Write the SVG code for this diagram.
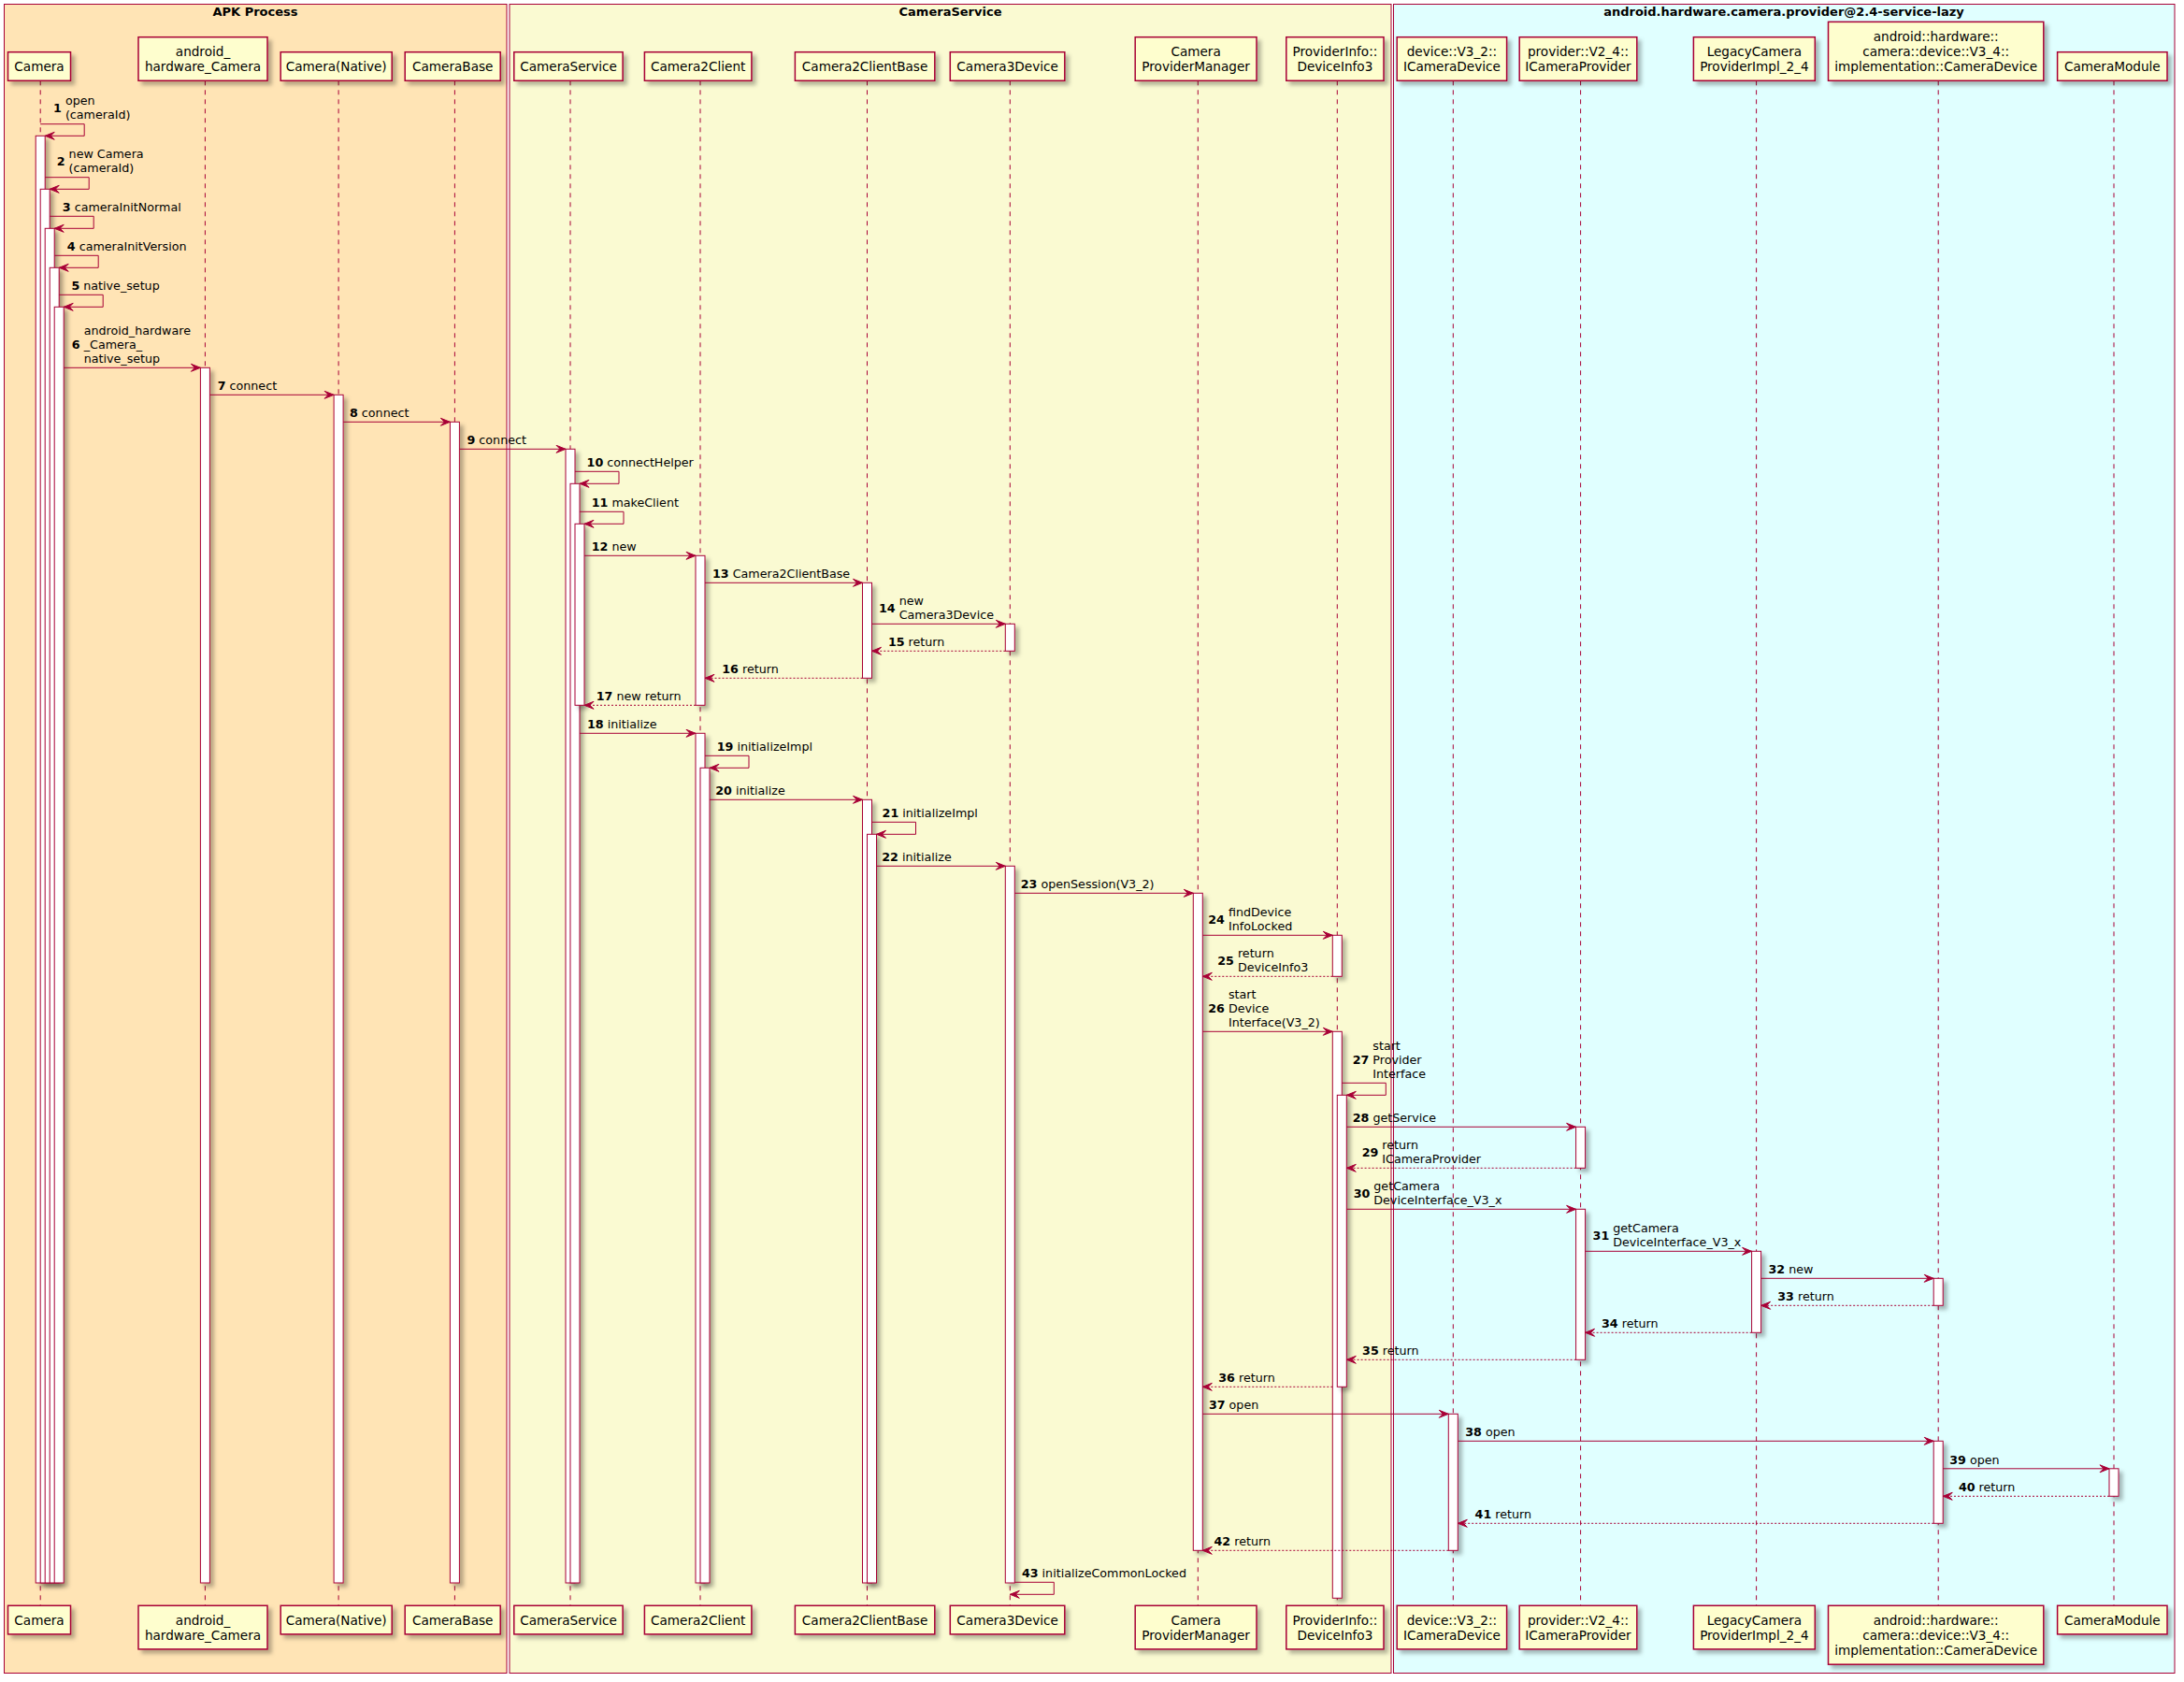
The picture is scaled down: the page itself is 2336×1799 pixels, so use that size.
<svg xmlns="http://www.w3.org/2000/svg" width="2336" height="1799" viewBox="0 0 2336 1799">
<defs>
<style>
.fr{stroke:#A80036;stroke-width:1}
.ft{font-family:"DejaVu Sans",sans-serif;font-size:13px;font-weight:bold;text-anchor:middle;fill:#000}
.pb{fill:#FEFECE;stroke:#A80036;stroke-width:1.5;filter:url(#sh)}
.pt{font-family:"DejaVu Sans",sans-serif;font-size:13.6px;text-anchor:middle;fill:#000}
.ll{stroke:#A80036;stroke-width:1;stroke-dasharray:5,5;fill:none}
.ac{fill:#FFFFFF;stroke:#A80036;stroke-width:1;filter:url(#sh)}
.ms{stroke:#A80036;stroke-width:1;fill:none;marker-end:url(#ah)}
.rt{stroke-dasharray:2,2}
.mt{font-family:"DejaVu Sans",sans-serif;font-size:12.7px;fill:#000}
.n{font-weight:bold}
</style>
<filter id="sh" x="-1" y="-0.5" width="3" height="2">
<feGaussianBlur in="SourceAlpha" stdDeviation="2"/>
<feOffset dx="4" dy="4" result="o"/>
<feFlood flood-color="#000" flood-opacity="0.28"/>
<feComposite in2="o" operator="in"/>
<feMerge><feMergeNode/><feMergeNode in="SourceGraphic"/></feMerge>
</filter>
<marker id="ah" markerUnits="userSpaceOnUse" markerWidth="12" markerHeight="10" refX="11" refY="5" orient="auto" overflow="visible">
<path d="M1,1 L11,5 L1,9 L5,5 Z" fill="#A80036" stroke="#A80036" stroke-width="1" stroke-dasharray="none"/>
</marker>
</defs>
<rect x="0" y="0" width="2336" height="1799" fill="#FFFFFF"/>
<g id="frames">
<rect class="fr" x="4.5" y="4.5" width="537.5" height="1785" fill="#FFE4B5"/>
<text class="ft" x="273" y="16.6">APK Process</text>
<rect class="fr" x="545" y="4.5" width="943" height="1785" fill="#FAFAD2"/>
<text class="ft" x="1016.5" y="16.6">CameraService</text>
<rect class="fr" x="1490.5" y="4.5" width="835.5" height="1785" fill="#E0FFFF"/>
<text class="ft" x="1908" y="16.6">android.hardware.camera.provider@2.4-service-lazy</text>
</g>
<g id="p-camera">
<line class="ll" x1="43.2" y1="86.3" x2="43.2" y2="1717.3"/>
<rect class="pb" x="8.5" y="55.7" width="67" height="30.6"/>
<text class="pt" x="42" y="76.2">Camera</text>
<rect class="pb" x="8.5" y="1717.3" width="67" height="30.6"/>
<text class="pt" x="42" y="1737.7">Camera</text>
<rect class="ac" x="38.2" y="145.3" width="10" height="1547.7"/>
<rect class="ac" x="43.2" y="202.3" width="10" height="1490.7"/>
<rect class="ac" x="48.2" y="244.3" width="10" height="1448.7"/>
<rect class="ac" x="53.2" y="286.3" width="10" height="1406.7"/>
<rect class="ac" x="58.2" y="328.3" width="10" height="1364.7"/>
</g>
<g id="p-android-hardware-camera">
<line class="ll" x1="219.4" y1="86.3" x2="219.4" y2="1717.3"/>
<rect class="pb" x="148" y="39.7" width="138" height="46.6"/>
<text class="pt" x="217" y="60.1">android_</text>
<text class="pt" x="217" y="76.4">hardware_Camera</text>
<rect class="pb" x="148" y="1717.3" width="138" height="46.6"/>
<text class="pt" x="217" y="1737.7">android_</text>
<text class="pt" x="217" y="1754">hardware_Camera</text>
<rect class="ac" x="214.4" y="393.3" width="10" height="1299.7"/>
</g>
<g id="p-camera-native">
<line class="ll" x1="362.1" y1="86.3" x2="362.1" y2="1717.3"/>
<rect class="pb" x="300.2" y="55.7" width="119" height="30.6"/>
<text class="pt" x="359.7" y="76.2">Camera(Native)</text>
<rect class="pb" x="300.2" y="1717.3" width="119" height="30.6"/>
<text class="pt" x="359.7" y="1737.7">Camera(Native)</text>
<rect class="ac" x="357.1" y="422.3" width="10" height="1270.7"/>
</g>
<g id="p-camerabase">
<line class="ll" x1="486.4" y1="86.3" x2="486.4" y2="1717.3"/>
<rect class="pb" x="433.2" y="55.7" width="102" height="30.6"/>
<text class="pt" x="484.2" y="76.2">CameraBase</text>
<rect class="pb" x="433.2" y="1717.3" width="102" height="30.6"/>
<text class="pt" x="484.2" y="1737.7">CameraBase</text>
<rect class="ac" x="481.4" y="451.3" width="10" height="1241.7"/>
</g>
<g id="p-cameraservice">
<line class="ll" x1="610" y1="86.3" x2="610" y2="1717.3"/>
<rect class="pb" x="549.8" y="55.7" width="116.3" height="30.6"/>
<text class="pt" x="608" y="76.2">CameraService</text>
<rect class="pb" x="549.8" y="1717.3" width="116.3" height="30.6"/>
<text class="pt" x="608" y="1737.7">CameraService</text>
<rect class="ac" x="605" y="480.3" width="10" height="1212.7"/>
<rect class="ac" x="610" y="517.3" width="10" height="1175.7"/>
<rect class="ac" x="615" y="560.3" width="10" height="194"/>
</g>
<g id="p-camera2client">
<line class="ll" x1="749" y1="86.3" x2="749" y2="1717.3"/>
<rect class="pb" x="689.4" y="55.7" width="114.5" height="30.6"/>
<text class="pt" x="746.7" y="76.2">Camera2Client</text>
<rect class="pb" x="689.4" y="1717.3" width="114.5" height="30.6"/>
<text class="pt" x="746.7" y="1737.7">Camera2Client</text>
<rect class="ac" x="744" y="594.3" width="10" height="160"/>
<rect class="ac" x="744" y="784.3" width="10" height="908.7"/>
<rect class="ac" x="749" y="821.3" width="10" height="871.7"/>
</g>
<g id="p-camera2clientbase">
<line class="ll" x1="927.5" y1="86.3" x2="927.5" y2="1717.3"/>
<rect class="pb" x="850.4" y="55.7" width="149.4" height="30.6"/>
<text class="pt" x="925.1" y="76.2">Camera2ClientBase</text>
<rect class="pb" x="850.4" y="1717.3" width="149.4" height="30.6"/>
<text class="pt" x="925.1" y="1737.7">Camera2ClientBase</text>
<rect class="ac" x="922.5" y="623.3" width="10" height="102"/>
<rect class="ac" x="922.5" y="855.3" width="10" height="837.7"/>
<rect class="ac" x="927.5" y="892.3" width="10" height="800.7"/>
</g>
<g id="p-camera3device">
<line class="ll" x1="1080.3" y1="86.3" x2="1080.3" y2="1717.3"/>
<rect class="pb" x="1016.3" y="55.7" width="122.5" height="30.6"/>
<text class="pt" x="1077.6" y="76.2">Camera3Device</text>
<rect class="pb" x="1016.3" y="1717.3" width="122.5" height="30.6"/>
<text class="pt" x="1077.6" y="1737.7">Camera3Device</text>
<rect class="ac" x="1075.3" y="667.3" width="10" height="29"/>
<rect class="ac" x="1075.3" y="926.3" width="10" height="766.7"/>
</g>
<g id="p-cameraprovidermanager">
<line class="ll" x1="1281.3" y1="86.3" x2="1281.3" y2="1717.3"/>
<rect class="pb" x="1214.2" y="39.7" width="129.8" height="46.6"/>
<text class="pt" x="1279.1" y="60.1">Camera</text>
<text class="pt" x="1279.1" y="76.4">ProviderManager</text>
<rect class="pb" x="1214.2" y="1717.3" width="129.8" height="46.6"/>
<text class="pt" x="1279.1" y="1737.7">Camera</text>
<text class="pt" x="1279.1" y="1754">ProviderManager</text>
<rect class="ac" x="1276.3" y="955.3" width="10" height="703"/>
</g>
<g id="p-deviceinfo3">
<line class="ll" x1="1430.3" y1="86.3" x2="1430.3" y2="1717.3"/>
<rect class="pb" x="1375.8" y="39.7" width="104.2" height="46.6"/>
<text class="pt" x="1427.9" y="60.1">ProviderInfo::</text>
<text class="pt" x="1427.9" y="76.4">DeviceInfo3</text>
<rect class="pb" x="1375.8" y="1717.3" width="104.2" height="46.6"/>
<text class="pt" x="1427.9" y="1737.7">ProviderInfo::</text>
<text class="pt" x="1427.9" y="1754">DeviceInfo3</text>
<rect class="ac" x="1425.3" y="1000.3" width="10" height="44"/>
<rect class="ac" x="1425.3" y="1103.3" width="10" height="606"/>
<rect class="ac" x="1430.3" y="1171.3" width="10" height="312"/>
</g>
<g id="p-icameradevice">
<line class="ll" x1="1554.3" y1="86.3" x2="1554.3" y2="1717.3"/>
<rect class="pb" x="1494.2" y="39.7" width="117.4" height="46.6"/>
<text class="pt" x="1552.9" y="60.1">device::V3_2::</text>
<text class="pt" x="1552.9" y="76.4">ICameraDevice</text>
<rect class="pb" x="1494.2" y="1717.3" width="117.4" height="46.6"/>
<text class="pt" x="1552.9" y="1737.7">device::V3_2::</text>
<text class="pt" x="1552.9" y="1754">ICameraDevice</text>
<rect class="ac" x="1549.3" y="1512.3" width="10" height="146"/>
</g>
<g id="p-icameraprovider">
<line class="ll" x1="1690.6" y1="86.3" x2="1690.6" y2="1717.3"/>
<rect class="pb" x="1625.2" y="39.7" width="125.6" height="46.6"/>
<text class="pt" x="1688" y="60.1">provider::V2_4::</text>
<text class="pt" x="1688" y="76.4">ICameraProvider</text>
<rect class="pb" x="1625.2" y="1717.3" width="125.6" height="46.6"/>
<text class="pt" x="1688" y="1737.7">provider::V2_4::</text>
<text class="pt" x="1688" y="1754">ICameraProvider</text>
<rect class="ac" x="1685.6" y="1205.3" width="10" height="44"/>
<rect class="ac" x="1685.6" y="1293.3" width="10" height="161"/>
</g>
<g id="p-legacycameraproviderimpl">
<line class="ll" x1="1878.6" y1="86.3" x2="1878.6" y2="1717.3"/>
<rect class="pb" x="1811.4" y="39.7" width="129.9" height="46.6"/>
<text class="pt" x="1876.4" y="60.1">LegacyCamera</text>
<text class="pt" x="1876.4" y="76.4">ProviderImpl_2_4</text>
<rect class="pb" x="1811.4" y="1717.3" width="129.9" height="46.6"/>
<text class="pt" x="1876.4" y="1737.7">LegacyCamera</text>
<text class="pt" x="1876.4" y="1754">ProviderImpl_2_4</text>
<rect class="ac" x="1873.6" y="1338.3" width="10" height="87"/>
</g>
<g id="p-cameradevice-impl">
<line class="ll" x1="2073.2" y1="86.3" x2="2073.2" y2="1717.3"/>
<rect class="pb" x="1955.5" y="23.4" width="230.3" height="62.9"/>
<text class="pt" x="2070.7" y="43.8">android::hardware::</text>
<text class="pt" x="2070.7" y="60.1">camera::device::V3_4::</text>
<text class="pt" x="2070.7" y="76.4">implementation::CameraDevice</text>
<rect class="pb" x="1955.5" y="1717.3" width="230.3" height="62.9"/>
<text class="pt" x="2070.7" y="1737.7">android::hardware::</text>
<text class="pt" x="2070.7" y="1754">camera::device::V3_4::</text>
<text class="pt" x="2070.7" y="1770.3">implementation::CameraDevice</text>
<rect class="ac" x="2068.2" y="1367.3" width="10" height="29"/>
<rect class="ac" x="2068.2" y="1541.3" width="10" height="88"/>
</g>
<g id="p-cameramodule">
<line class="ll" x1="2261" y1="86.3" x2="2261" y2="1717.3"/>
<rect class="pb" x="2200.6" y="55.7" width="117.4" height="30.6"/>
<text class="pt" x="2259.3" y="76.2">CameraModule</text>
<rect class="pb" x="2200.6" y="1717.3" width="117.4" height="30.6"/>
<text class="pt" x="2259.3" y="1737.7">CameraModule</text>
<rect class="ac" x="2256" y="1570.8" width="10" height="29.5"/>
</g>
<g id="connectors">
<path class="ms" d="M43.2,132.7 H90.2 V145.3 H48.2"/>
<text class="mt n" x="57" y="119.9">1</text>
<text class="mt" x="69.9" y="112.3">open</text>
<text class="mt" x="69.9" y="127.4">(cameraId)</text>
<path class="ms" d="M48.2,189.7 H95.2 V202.3 H53.2"/>
<text class="mt n" x="60.7" y="176.9">2</text>
<text class="mt" x="73.6" y="169.3">new Camera</text>
<text class="mt" x="73.6" y="184.4">(cameraId)</text>
<path class="ms" d="M53.2,231.3 H100.2 V244.3 H58.2"/>
<text class="mt" x="66.8" y="226"><tspan class="n">3</tspan> cameraInitNormal</text>
<path class="ms" d="M58.2,273.3 H105.2 V286.3 H63.2"/>
<text class="mt" x="71.8" y="268"><tspan class="n">4</tspan> cameraInitVersion</text>
<path class="ms" d="M63.2,315.3 H110.2 V328.3 H68.2"/>
<text class="mt" x="76.4" y="310"><tspan class="n">5</tspan> native_setup</text>
<path class="ms" d="M68.2,393.3 H214.4"/>
<text class="mt n" x="76.8" y="373">6</text>
<text class="mt" x="89.7" y="357.9">android_hardware</text>
<text class="mt" x="89.7" y="373">_Camera_</text>
<text class="mt" x="89.7" y="388">native_setup</text>
<path class="ms" d="M224.4,422.3 H357.1"/>
<text class="mt" x="232.7" y="417"><tspan class="n">7</tspan> connect</text>
<path class="ms" d="M367.1,451.3 H481.4"/>
<text class="mt" x="374" y="446"><tspan class="n">8</tspan> connect</text>
<path class="ms" d="M491.4,480.3 H605"/>
<text class="mt" x="499.5" y="475"><tspan class="n">9</tspan> connect</text>
<path class="ms" d="M615,504.3 H662 V517.3 H620"/>
<text class="mt" x="627.6" y="499"><tspan class="n">10</tspan> connectHelper</text>
<path class="ms" d="M620,547.3 H667 V560.3 H625"/>
<text class="mt" x="632.7" y="542"><tspan class="n">11</tspan> makeClient</text>
<path class="ms" d="M625,594.3 H744"/>
<text class="mt" x="632.7" y="589"><tspan class="n">12</tspan> new</text>
<path class="ms" d="M754,623.3 H922.5"/>
<text class="mt" x="762" y="618"><tspan class="n">13</tspan> Camera2ClientBase</text>
<path class="ms" d="M932.5,667.3 H1075.3"/>
<text class="mt n" x="940" y="654.5">14</text>
<text class="mt" x="961.7" y="646.9">new</text>
<text class="mt" x="961.7" y="662">Camera3Device</text>
<path class="ms rt" d="M1075.3,696.3 H932.5"/>
<text class="mt" x="949.9" y="691"><tspan class="n">15</tspan> return</text>
<path class="ms rt" d="M922.5,725.3 H754"/>
<text class="mt" x="772.3" y="720"><tspan class="n">16</tspan> return</text>
<path class="ms rt" d="M744,754.3 H625"/>
<text class="mt" x="637.8" y="749"><tspan class="n">17</tspan> new return</text>
<path class="ms" d="M620,784.3 H744"/>
<text class="mt" x="628" y="779"><tspan class="n">18</tspan> initialize</text>
<path class="ms" d="M754,808.3 H801 V821.3 H759"/>
<text class="mt" x="766.8" y="803"><tspan class="n">19</tspan> initializeImpl</text>
<path class="ms" d="M759,855.3 H922.5"/>
<text class="mt" x="765.2" y="850"><tspan class="n">20</tspan> initialize</text>
<path class="ms" d="M932.5,879.3 H979.5 V892.3 H937.5"/>
<text class="mt" x="943.6" y="874"><tspan class="n">21</tspan> initializeImpl</text>
<path class="ms" d="M937.5,926.3 H1075.3"/>
<text class="mt" x="943.2" y="921"><tspan class="n">22</tspan> initialize</text>
<path class="ms" d="M1085.3,955.3 H1276.3"/>
<text class="mt" x="1091.7" y="950"><tspan class="n">23</tspan> openSession(V3_2)</text>
<path class="ms" d="M1286.3,1000.3 H1425.3"/>
<text class="mt n" x="1292.3" y="987.5">24</text>
<text class="mt" x="1313.9" y="979.9">findDevice</text>
<text class="mt" x="1313.9" y="995">InfoLocked</text>
<path class="ms rt" d="M1425.3,1044.3 H1286.3"/>
<text class="mt n" x="1302.3" y="1031.5">25</text>
<text class="mt" x="1323.9" y="1023.9">return</text>
<text class="mt" x="1323.9" y="1039">DeviceInfo3</text>
<path class="ms" d="M1286.3,1103.3 H1425.3"/>
<text class="mt n" x="1292.3" y="1082.9">26</text>
<text class="mt" x="1313.9" y="1067.8">start</text>
<text class="mt" x="1313.9" y="1082.9">Device</text>
<text class="mt" x="1313.9" y="1098">Interface(V3_2)</text>
<path class="ms" d="M1435.3,1158.3 H1482.3 V1171.3 H1440.3"/>
<text class="mt n" x="1446.7" y="1137.9">27</text>
<text class="mt" x="1468.3" y="1122.8">start</text>
<text class="mt" x="1468.3" y="1137.9">Provider</text>
<text class="mt" x="1468.3" y="1153">Interface</text>
<path class="ms" d="M1440.3,1205.3 H1685.6"/>
<text class="mt" x="1446.7" y="1200"><tspan class="n">28</tspan> getService</text>
<path class="ms rt" d="M1685.6,1249.3 H1440.3"/>
<text class="mt n" x="1456.7" y="1236.5">29</text>
<text class="mt" x="1478.3" y="1228.9">return</text>
<text class="mt" x="1478.3" y="1244">ICameraProvider</text>
<path class="ms" d="M1440.3,1293.3 H1685.6"/>
<text class="mt n" x="1447.7" y="1280.5">30</text>
<text class="mt" x="1469.3" y="1272.9">getCamera</text>
<text class="mt" x="1469.3" y="1288">DeviceInterface_V3_x</text>
<path class="ms" d="M1695.6,1338.3 H1873.6"/>
<text class="mt n" x="1703.6" y="1325.5">31</text>
<text class="mt" x="1725.2" y="1317.9">getCamera</text>
<text class="mt" x="1725.2" y="1333">DeviceInterface_V3_x</text>
<path class="ms" d="M1883.6,1367.3 H2068.2"/>
<text class="mt" x="1891.5" y="1362"><tspan class="n">32</tspan> new</text>
<path class="ms rt" d="M2068.2,1396.3 H1883.6"/>
<text class="mt" x="1901.3" y="1391"><tspan class="n">33</tspan> return</text>
<path class="ms rt" d="M1873.6,1425.3 H1695.6"/>
<text class="mt" x="1713" y="1420"><tspan class="n">34</tspan> return</text>
<path class="ms rt" d="M1685.6,1454.3 H1440.3"/>
<text class="mt" x="1457.1" y="1449"><tspan class="n">35</tspan> return</text>
<path class="ms rt" d="M1425.3,1483.3 H1286.3"/>
<text class="mt" x="1303.3" y="1478"><tspan class="n">36</tspan> return</text>
<path class="ms" d="M1286.3,1512.3 H1549.3"/>
<text class="mt" x="1292.9" y="1507"><tspan class="n">37</tspan> open</text>
<path class="ms" d="M1559.3,1541.3 H2068.2"/>
<text class="mt" x="1567.2" y="1536"><tspan class="n">38</tspan> open</text>
<path class="ms" d="M2078.2,1570.8 H2256"/>
<text class="mt" x="2085.2" y="1565.5"><tspan class="n">39</tspan> open</text>
<path class="ms rt" d="M2256,1600.3 H2078.2"/>
<text class="mt" x="2094.9" y="1595"><tspan class="n">40</tspan> return</text>
<path class="ms rt" d="M2068.2,1629.3 H1559.3"/>
<text class="mt" x="1577.6" y="1624"><tspan class="n">41</tspan> return</text>
<path class="ms rt" d="M1549.3,1658.3 H1286.3"/>
<text class="mt" x="1298.5" y="1653"><tspan class="n">42</tspan> return</text>
<path class="ms" d="M1085.3,1692.3 H1127.3 V1705.3 H1080.3"/>
<text class="mt" x="1092.9" y="1687"><tspan class="n">43</tspan> initializeCommonLocked</text>
</g>
</svg>
